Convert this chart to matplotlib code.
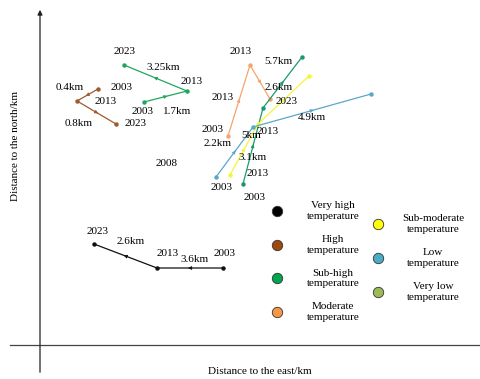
import matplotlib
matplotlib.use('Agg')
import matplotlib.pyplot as plt
import numpy as np

plt.rcParams['font.family'] = ['Liberation Serif', 'DejaVu Serif']
plt.rcParams['font.size'] = 8

# trajectories: east / north positions (2003, 2013, 2023)
years = ['2003', '2013', '2023']

black_e = [223, 157, 94]
black_n = [111, 111, 135]

brown_e = [98, 77, 116]
brown_n = [290, 278, 255]

green1_e = [144, 187, 124]
green1_n = [277, 288, 314]

orange_e = [228, 250, 270]
orange_n = [243, 314, 280]

green2_e = [243, 263, 302]
green2_n = [195, 271, 322]

yellow_e = [230, 258, 309]
yellow_n = [204, 255, 303]

blue_e = [216, 253, 371]
blue_n = [202, 252, 285]

series = [
    (black_e, black_n, '#111111'),
    (brown_e, brown_n, '#9c5b2c'),
    (green1_e, green1_n, '#1fa65e'),
    (orange_e, orange_n, '#f4a46e'),
    (green2_e, green2_n, '#1a9a6b'),
    (yellow_e, yellow_n, '#f5f53a'),
    (blue_e, blue_n, '#5ba7c8'),
]

# text labels (text, east, north)
labels = [
    ('2023', 98, 148), ('2.6km', 131, 137), ('2013', 168, 126),
    ('3.6km', 195, 119), ('2003', 225, 126),
    ('0.4km', 70, 292), ('2003', 122, 292), ('2013', 106, 278),
    ('0.8km', 79, 255), ('2023', 136, 255),
    ('2023', 125, 327), ('3.25km', 163, 312), ('2013', 192, 297),
    ('2003', 143, 267), ('1.7km', 177, 268),
    ('2013', 241, 327), ('5.7km', 278, 318), ('2013', 223, 281),
    ('2.6km', 279, 291), ('2023', 287, 277), ('4.9km', 312, 262),
    ('2003', 213, 249), ('2.2km', 218, 236), ('5km', 251, 244),
    ('2013', 268, 247), ('3.1km', 253, 222), ('2013', 258, 205),
    ('2003', 222, 192), ('2003', 255, 182), ('2008', 167, 215),
]

legend_left = ['Very high\ntemperature', 'High\ntemperature',
               'Sub-high\ntemperature', 'Moderate\ntemperature']
legend_left_colors = ['#000000', '#9e480e', '#00a550', '#f79646']
legend_right = ['Sub-moderate\ntemperature', 'Low\ntemperature',
                'Very low\ntemperature']
legend_right_colors = ['#ffff00', '#4bacc6', '#9bbb59']

fig = plt.figure(figsize=(4.8, 3.79), dpi=100)
ax = fig.add_axes([0, 0, 1, 1])
ax.set_xlim(0, 480)
ax.set_ylim(0, 379)
ax.axis('off')

# axes lines
ax.plot([10, 480], [34, 34], color='#444444', lw=0.9)
ax.annotate('', xy=(40, 372), xytext=(40, 4),
            arrowprops=dict(arrowstyle='-|>', color='#222222', lw=0.9,
                            mutation_scale=7))
ax.text(16, 233, 'Distance to the north/km', rotation=90,
        ha='center', va='center')
ax.text(260, 8, 'Distance to the east/km', ha='center', va='center')

for e, n, c in series:
    ax.plot(e, n, color=c, lw=0.9, marker='o', markersize=2.2, zorder=2)
    for i in range(len(e) - 1):
        x0, y0, x1, y1 = e[i], n[i], e[i + 1], n[i + 1]
        mx, my = (x0 + x1) / 2, (y0 + y1) / 2
        d = np.hypot(x1 - x0, y1 - y0)
        ux, uy = (x1 - x0) / d, (y1 - y0) / d
        ax.annotate('', xy=(mx + ux * 2, my + uy * 2),
                    xytext=(mx - ux * 3, my - uy * 3),
                    arrowprops=dict(arrowstyle='-|>', color=c, lw=0.6,
                                    mutation_scale=5))

for t, x, y in labels:
    ax.text(x, y, t, ha='center', va='center', zorder=3)

# legend
for i, (t, c) in enumerate(zip(legend_left, legend_left_colors)):
    yy = 168 - i * 33.7
    ax.plot(277, yy, marker='o', markersize=7.5, color=c,
            markeredgecolor='#333333', markeredgewidth=0.6)
    ax.text(333, yy, t, ha='center', va='center', linespacing=1.25)
for i, (t, c) in enumerate(zip(legend_right, legend_right_colors)):
    yy = 155 - i * 34
    ax.plot(378, yy, marker='o', markersize=7.5, color=c,
            markeredgecolor='#333333', markeredgewidth=0.6)
    ax.text(433, yy, t, ha='center', va='center', linespacing=1.25)

fig.savefig('out.png', dpi=100)
